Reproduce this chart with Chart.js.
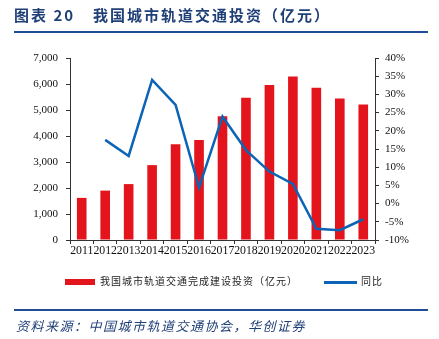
<!DOCTYPE html>
<html lang="zh">
<head>
<meta charset="UTF-8" />
<title>我国城市轨道交通投资</title>
<script src="https://cdn.jsdelivr.net/npm/chart.js"></script>
<style>
    html, body { margin: 0; padding: 0; background: #fff; }
    #wrap { position: relative; width: 439px; height: 339px; overflow: hidden; }
    #chartBox { position: absolute; left: 0; top: 0; width: 439px; height: 339px; }
    .title {
        position: absolute; left: 14px; top: 4px; font-family: "Noto Sans CJK SC"; font-weight: bold;
        font-size: 15px; color: #1f3f77; letter-spacing: 2px; white-space: nowrap;
    }
    .rule { position: absolute; left: 14px; width: 414px; height: 2px; background: #1f4e96; }
    .source {
        position: absolute; left: 16px; top: 316px; font-family: "Noto Sans CJK SC"; font-style: italic;
        font-size: 13px; color: #1f3f77; letter-spacing: 1.5px; white-space: nowrap;
    }
    .legend { position: absolute; top: 273px; font-family: "Noto Sans CJK SC"; font-size: 10px; color: #222; white-space: nowrap; letter-spacing: 1px; }
    .swatch { position: absolute; }
</style>
</head>
<body>
<div id="wrap">
    <div id="chartBox"><canvas id="investChart"></canvas></div>
    <div class="title">图表 20<span style="display:inline-block;width:18px"></span>我国城市轨道交通投资（亿元）</div>
    <div class="rule" style="top:31px"></div>
    <div class="swatch" style="left:65px;top:279px;width:30px;height:6px;background:#e3141b"></div>
    <div class="legend" style="left:100px">我国城市轨道交通完成建设投资（亿元）</div>
    <div class="swatch" style="left:324px;top:281px;width:33px;height:2.5px;background:#0b64b5"></div>
    <div class="legend" style="left:361px">同比</div>
    <div class="rule" style="top:309px"></div>
    <div class="source">资料来源：中国城市轨道交通协会，华创证券</div>
</div>

<script>
    const years = ['2011', '2012', '2013', '2014', '2015', '2016', '2017', '2018', '2019', '2020', '2021', '2022', '2023'];
    const investment = [1620, 1900, 2150, 2880, 3680, 3850, 4760, 5470, 5960, 6290, 5860, 5440, 5210];
    const yoyGrowth = [null, 17.5, 13.1, 34.0, 27.1, 4.4, 23.9, 14.7, 8.8, 5.4, -6.9, -7.3, -4.3];

    const serif = 'Liberation Serif';

    const ctx = document.getElementById('investChart').getContext('2d');
    new Chart(ctx, {
        data: {
            labels: years,
            datasets: [
                {
                    type: 'line',
                    label: '同比',
                    data: yoyGrowth,
                    yAxisID: 'y1',
                    borderColor: '#0b64b5',
                    borderWidth: 2.5,
                    pointRadius: 0,
                    tension: 0,
                    order: 0
                },
                {
                    type: 'bar',
                    label: '我国城市轨道交通完成建设投资（亿元）',
                    data: investment,
                    yAxisID: 'y',
                    backgroundColor: '#e3141b',
                    categoryPercentage: 1,
                    barPercentage: 0.41,
                    order: 1
                }
            ]
        },
        options: {
            responsive: true,
            maintainAspectRatio: false,
            animation: false,
            layout: { padding: { top: 58, left: 0, right: 0, bottom: 0 } },
            plugins: { legend: { display: false }, tooltip: { enabled: false } },
            scales: {
                x: {
                    grid: { drawOnChartArea: false, offset: true, tickLength: 4, color: '#333' },
                    border: { color: '#333' },
                    ticks: { font: { family: serif, size: 11.8 }, color: '#111', maxRotation: 0, autoSkip: false, padding: 0 },
                    afterFit: s => { s.height = 99; }
                },
                y: {
                    position: 'left',
                    min: 0, max: 7000,
                    grid: { drawOnChartArea: false, tickLength: 4, color: '#333' },
                    border: { color: '#333' },
                    ticks: {
                        stepSize: 1000,
                        font: { family: serif, size: 11 }, color: '#111', padding: 8,
                        callback: v => v.toLocaleString('en-US')
                    },
                    afterFit: s => { s.width = 70; }
                },
                y1: {
                    position: 'right',
                    min: -10, max: 40,
                    grid: { drawOnChartArea: false, tickLength: 4, color: '#333' },
                    border: { color: '#333' },
                    ticks: {
                        stepSize: 5,
                        font: { family: serif, size: 11 }, color: '#111', padding: 6,
                        callback: v => v + '%'
                    },
                    afterFit: s => { s.width = 64; }
                }
            }
        }
    });
</script>
</body>
</html>
